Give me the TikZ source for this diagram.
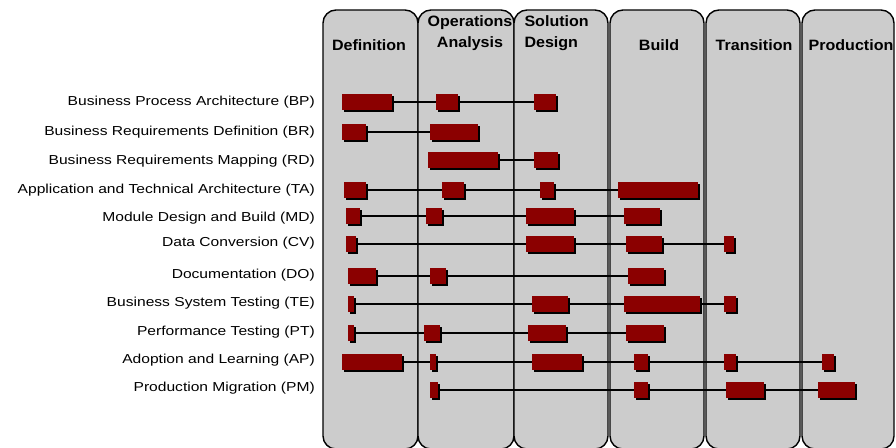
\documentclass[tikz,border=0pt]{standalone}
\usepackage{fontspec}
\setmainfont{Liberation Sans}
\newfontfamily\trackfont[FakeStretch=1.2]{Liberation Sans}
\newfontfamily\phasefont[FakeStretch=1.07]{Liberation Sans}
\usepackage{xcolor}
\usepackage{tikz}
\usetikzlibrary{shadows,positioning}

\definecolor{phasegray}{RGB}{204,204,204}
\definecolor{taskred}{RGB}{139,0,0}

\tikzset{
  phase/.style={draw=black, line width=1.4pt, fill=phasegray, rounded corners=13pt},
  phasename/.style={font=\phasefont\fontsize{15}{21}\selectfont\bfseries, align=center},
  track/.style={font=\trackfont\fontsize{13}{15}\selectfont, anchor=east, inner sep=0pt},
  task/.style={rectangle, fill=taskred, inner sep=0pt, minimum height=16pt,
    drop shadow={shadow xshift=2pt, shadow yshift=-2pt, opacity=1, fill=black}},
  link/.style={line width=1.6pt}
}

\begin{document}
\begin{tikzpicture}[x=1pt, y=-1pt]
        \useasboundingbox (0,0) rectangle (896,447);

        % phase columns
        \foreach \l/\r in {323/418, 418/514, 514/608, 610/704, 706/800, 802/894}
            \draw[phase] (\l,10) rectangle (\r,449);

        \node[phasename] (defn) at (369,45) {Definition};
        \node[phasename] (opan) at (470,33) {Operations\\Analysis};
        \node[phasename, align=left, anchor=west] (soldes) at (521,33) {Solution\\Design};
        \node[phasename] (build) at (659,45) {Build};
        \node[phasename] (trans) at (754,45) {Transition};
        \node[phasename] (prod) at (851,45) {Production};

        % BP
        \node[track] (bpname) at (315,102) {Business Process Architecture (BP)};
        \foreach \a/\b [count=\i] in {342/392, 436/458, 534/556}
            \node[task, minimum width=\b-\a] (bp\i) at ({(\a+\b)/2},102) {};
        \draw[link] (bp1) -- (bp2) -- (bp3);

        % BR
        \node[track] (brname) at (315,132) {Business Requirements Definition (BR)};
        \foreach \a/\b [count=\i] in {342/366, 430/478}
            \node[task, minimum width=\b-\a] (br\i) at ({(\a+\b)/2},132) {};
        \draw[link] (br1) -- (br2);

        % RD
        \node[track] (rdname) at (315,161) {Business Requirements Mapping (RD)};
        \foreach \a/\b [count=\i] in {428/498, 534/558}
            \node[task, minimum width=\b-\a] (rd\i) at ({(\a+\b)/2},160) {};
        \draw[link] (rd1) -- (rd2);

        % TA
        \node[track] (taname) at (315,190) {Application and Technical Architecture (TA)};
        \foreach \a/\b [count=\i] in {344/366, 442/464, 540/554, 618/698}
            \node[task, minimum width=\b-\a] (ta\i) at ({(\a+\b)/2},190) {};
        \draw[link] (ta1) -- (ta2) -- (ta3) -- (ta4);

        % MD
        \node[track] (mdname) at (315,218) {Module Design and Build (MD)};
        \foreach \a/\b [count=\i] in {346/360, 426/442, 526/574, 624/660}
            \node[task, minimum width=\b-\a] (md\i) at ({(\a+\b)/2},216) {};
        \draw[link] (md1) -- (md2) -- (md3) -- (md4);

        % CV
        \node[track] (cvname) at (315,243) {Data Conversion (CV)};
        \foreach \a/\b [count=\i] in {346/356, 526/574, 626/662, 724/734}
            \node[task, minimum width=\b-\a] (cv\i) at ({(\a+\b)/2},244) {};
        \draw[link] (cv1) -- (cv2) -- (cv3) -- (cv4);

        % DO
        \node[track] (doname) at (315,275) {Documentation (DO)};
        \foreach \a/\b [count=\i] in {348/376, 430/446, 628/664}
            \node[task, minimum width=\b-\a] (do\i) at ({(\a+\b)/2},276) {};
        \draw[link] (do1) -- (do2) -- (do3);

        % TE
        \node[track] (tename) at (315,303) {Business System Testing (TE)};
        \foreach \a/\b [count=\i] in {348/354, 532/568, 624/700, 724/736}
            \node[task, minimum width=\b-\a] (te\i) at ({(\a+\b)/2},304) {};
        \draw[link] (te1) -- (te2) -- (te3) -- (te4);

        % PT
        \node[track] (ptname) at (315,332) {Performance Testing (PT)};
        \foreach \a/\b [count=\i] in {348/354, 424/440, 528/566, 626/664}
            \node[task, minimum width=\b-\a] (pt\i) at ({(\a+\b)/2},333) {};
        \draw[link] (pt1) -- (pt2) -- (pt3) -- (pt4);

        % AP
        \node[track] (apname) at (315,360) {Adoption and Learning (AP)};
        \foreach \a/\b [count=\i] in {342/402, 430/436, 532/582, 634/648, 724/736, 822/834}
            \node[task, minimum width=\b-\a] (ap\i) at ({(\a+\b)/2},362) {};
        \draw[link] (ap1) -- (ap2) -- (ap3) -- (ap4) -- (ap5) -- (ap6);

        % PM
        \node[track] (pmname) at (315,388) {Production Migration (PM)};
        \foreach \a/\b [count=\i] in {430/438, 634/648, 726/764, 818/855}
            \node[task, minimum width=\b-\a] (pm\i) at ({(\a+\b)/2},390) {};
        \draw[link] (pm1) -- (pm2) -- (pm3) -- (pm4);
    \end{tikzpicture}
\end{document}
